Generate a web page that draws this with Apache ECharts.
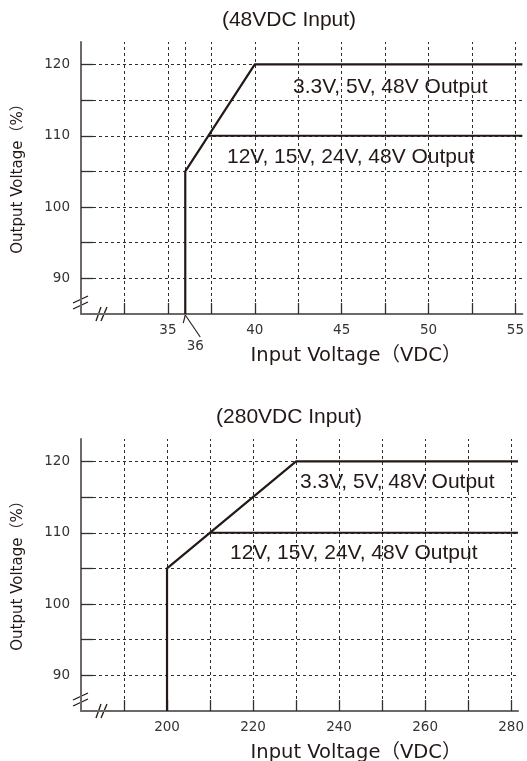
<!DOCTYPE html>
<html><head><meta charset="utf-8">
<script src="https://cdn.jsdelivr.net/npm/echarts@6/dist/echarts.min.js"></script>
<style>html,body{margin:0;padding:0;background:#fff}#c{width:527px;height:761px}</style>
</head><body><div id="c"></div>
<script>
// ---- data ----
const titles = ['(48VDC Input)', '(280VDC Input)'];
const seriesNames = ['3.3V, 5V, 48V Output', '12V, 15V, 24V, 48V Output'];
const yTitle = 'Output Voltage（%）';
const xTitle = 'Input Voltage（VDC）';
// 48VDC chart
const x48Range = [30, 55.4];
const x48Grid = [32.5, 35, 36, 37.5, 40, 42.5, 45, 47.5, 50, 52.5, 55];
const x48Ticks = [32.5, 35, 37.5, 40, 42.5, 45, 47.5, 50, 52.5, 55];
const x48Labels = [35, 40, 45, 50, 55];
const marker48 = 36;
const hi48X = [36, 36, 40, 55.4];
const hi48Y = [85, 105, 120, 120];
const lo48X = [37.33, 55.4];
const lo48Y = [110, 110];
// 280VDC chart
const x280Range = [180, 281.6];
const x280Grid = [190, 200, 210, 220, 230, 240, 250, 260, 270, 280];
const x280Ticks = [190, 200, 210, 220, 230, 240, 250, 260, 270, 280];
const x280Labels = [200, 220, 240, 260, 280];
const hi280X = [200, 200, 230, 281.6];
const hi280Y = [85, 105, 120, 120];
const lo280X = [210, 281.6];
const lo280Y = [110, 110];
// shared y axis
const yRange = [85, 123.15];
const yGrid = [90, 95, 100, 105, 110, 115, 120];
const yLabels = [90, 100, 110, 120];

const INK = '#231815';
const AXIS = '#6e6868';
const DV = "'DejaVu Sans','Noto Sans CJK JP',sans-serif";
const SANS = "'Liberation Sans',Arial,sans-serif";

function zip(xs, ys) { return xs.map((x, i) => [x, ys[i]]); }

function xAxisDef(idx, range, interval, ticks, labels) {
  return {
    type: 'value', gridIndex: idx, min: range[0], max: range[1], interval: interval,
    axisLine: { show: true, onZero: false, lineStyle: { color: AXIS, width: 2 } },
    axisTick: { show: true, inside: true, length: 11, customValues: ticks, lineStyle: { color: '#333', width: 1.3 } },
    axisLabel: { show: true, customValues: labels, margin: 10, fontFamily: DV, fontSize: 13.5, color: '#333',
      formatter: v => labels.includes(v) ? String(v) : '' },
    splitLine: { show: false }
  };
}
function yAxisDef(idx) {
  return {
    type: 'value', gridIndex: idx, min: yRange[0], max: yRange[1], interval: 5,
    axisLine: { show: true, onZero: false, lineStyle: { color: AXIS, width: 2 } },
    axisTick: { show: true, inside: true, length: 12, customValues: yGrid, lineStyle: { color: '#333', width: 1.3 } },
    axisLabel: { show: true, customValues: yLabels, margin: 11, fontFamily: DV, fontSize: 13.5, color: '#333',
      formatter: v => yLabels.includes(v) ? String(v) : '' },
    splitLine: { show: false }
  };
}
const gridLineStyle = { color: '#2e2e2e', type: [3, 3], width: 1 };
function dataSeries(idx, xs, ys, gridX) {
  const s = {
    type: 'line', xAxisIndex: idx, yAxisIndex: idx, data: zip(xs, ys), symbol: 'none',
    lineStyle: { color: INK, width: 2.2 }, animation: false, silent: true, z: 5
  };
  if (gridX) {
    s.markLine = {
      silent: true, symbol: ['none', 'none'], label: { show: false }, animation: false,
      lineStyle: gridLineStyle,
      data: gridX.map(v => ({ xAxis: v })).concat(yGrid.map(v => ({ yAxis: v })))
    };
  }
  return s;
}

const chart = echarts.init(document.getElementById('c'), null, { renderer: 'canvas' });
const option = {
  animation: false,
  backgroundColor: '#fff',
  grid: [
    { left: 81, top: 42, width: 442, height: 272 },
    { left: 81, top: 439, width: 442, height: 272 }
  ],
  xAxis: [
    xAxisDef(0, x48Range, 2.5, x48Ticks, x48Labels),
    xAxisDef(1, x280Range, 10, x280Ticks, x280Labels)
  ],
  yAxis: [yAxisDef(0), yAxisDef(1)],
  series: [
    dataSeries(0, hi48X, hi48Y, x48Grid),
    dataSeries(0, lo48X, lo48Y, null),
    dataSeries(1, hi280X, hi280Y, x280Grid),
    dataSeries(1, lo280X, lo280Y, null)
  ]
};
chart.setOption(option);

// ---- annotations ----
function txt(x, y, text, size, font, opts) {
  opts = opts || {};
  const el = { type: 'text', x: x, y: y, silent: true,
    style: { text: text, fontSize: size, fontFamily: font, fill: opts.fill || INK,
      align: opts.align || 'center', verticalAlign: 'middle' } };
  if (opts.rotation) el.rotation = opts.rotation;
  return el;
}
function ln(x1, y1, x2, y2, w) {
  return { type: 'line', silent: true, shape: { x1, y1, x2, y2 }, style: { stroke: INK, lineWidth: w || 1.3 } };
}
const g = [];
[0, 397].forEach((dy, i) => {
  g.push(txt(289, 20 + dy, titles[i], 21, SANS));
  g.push(txt(18, 175 + dy, yTitle, 15, DV, { rotation: Math.PI / 2 }));
  g.push(txt(356, 356 + dy, xTitle, 19.5, DV));
  // axis breaks
  g.push(ln(73, 303 + dy, 88, 296 + dy));
  g.push(ln(73, 309 + dy, 88, 302 + dy));
  g.push(ln(96, 321 + dy, 101, 307 + dy));
  g.push(ln(101, 321 + dy, 107, 307 + dy));
});
g.push(txt(293, 87, seriesNames[0], 21, SANS, { align: 'left' }));
g.push(txt(227, 157, seriesNames[1], 21, SANS, { align: 'left' }));
g.push(txt(300, 482, seriesNames[0], 21, SANS, { align: 'left' }));
g.push(txt(230, 553, seriesNames[1], 21, SANS, { align: 'left' }));

// 36 marker leader
const p = chart.convertToPixel({ xAxisIndex: 0, yAxisIndex: 0 }, [marker48, yRange[0]]);
g.push(ln(p[0], p[1] + 1, p[0] + 15, p[1] + 23, 1.1));
g.push(ln(p[0], p[1] + 1, p[0] - 2, p[1] + 9, 1.1));
g.push(txt(p[0] + 10, p[1] + 32, String(marker48), 13.5, DV, { fill: '#333' }));

chart.setOption({ graphic: g });
</script>
</body></html>
